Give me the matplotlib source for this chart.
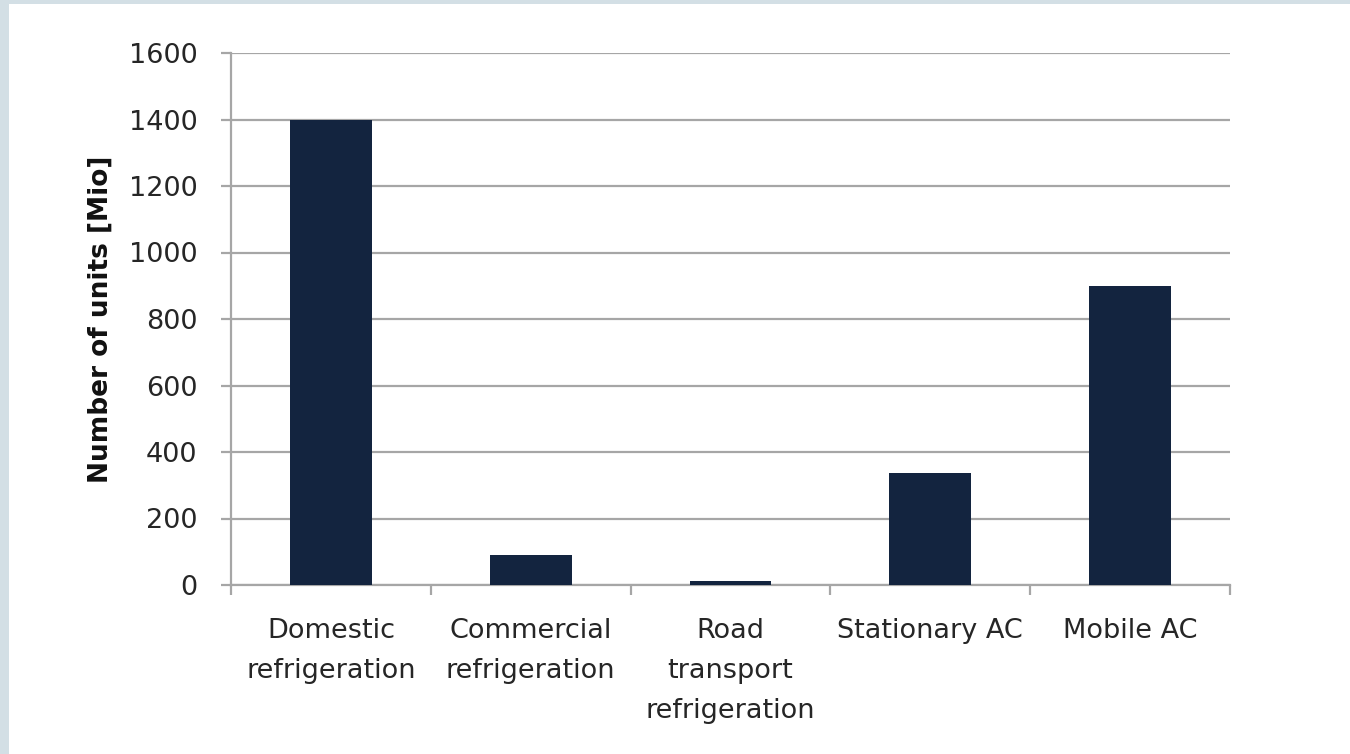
import matplotlib
matplotlib.use("Agg")
import matplotlib.pyplot as plt
from matplotlib.patches import Rectangle
import numpy as np

# units in service per sector, millions
sectors = ["Domestic\nrefrigeration", "Commercial\nrefrigeration",
           "Road\ntransport\nrefrigeration", "Stationary AC", "Mobile AC"]
units = [1400, 90, 12, 337, 900]
yticks = [0, 200, 400, 600, 800, 1000, 1200, 1400, 1600]

plt.rcParams["font.family"] = ["DejaVu Sans"]

fig = plt.figure(figsize=(13.5, 7.54), dpi=100)
fig.patch.set_facecolor("#d3dfe5")
# white card over the icy backdrop
fig.patches.append(Rectangle((9 / 1350, 0), 1, 1 - 4 / 754, transform=fig.transFigure,
                             facecolor="white", edgecolor="none", zorder=-10))

ax = fig.add_axes([231 / 1350, 1 - 585 / 754, 999 / 1350, 532 / 754])
ax.set_facecolor("white")

x = np.arange(len(sectors))
ax.bar(x, units, width=0.41, color="#13243f", zorder=3)

ax.set_xlim(-0.5, len(sectors) - 0.5)
ax.set_ylim(0, 1600)
ax.set_yticks(yticks)
ax.set_yticklabels([str(v) for v in yticks])
ax.yaxis.grid(True, color="#a6a6a6", linewidth=1.6, zorder=1)

ax.set_xticks(x)
ax.set_xticklabels(sectors, linespacing=1.68, va="top")
ax.set_xticks(np.arange(-0.5, len(sectors)), minor=True)
ax.tick_params(axis="x", which="major", length=0, pad=24, labelsize=19.5, labelcolor="#262626")
ax.tick_params(axis="x", which="minor", length=7, width=1.6, color="#a6a6a6")
ax.tick_params(axis="y", length=7, width=1.6, color="#a6a6a6", pad=17, labelsize=19.5,
               labelcolor="#262626")

for side in ["top", "right"]:
    ax.spines[side].set_visible(False)
for side in ["left", "bottom"]:
    ax.spines[side].set_color("#a6a6a6")
    ax.spines[side].set_linewidth(1.6)

ax.set_ylabel("Number of units [Mio]", fontsize=19, fontweight="bold", color="#111111",
              labelpad=11)

fig.savefig("out.png", dpi=100, facecolor=fig.get_facecolor())
